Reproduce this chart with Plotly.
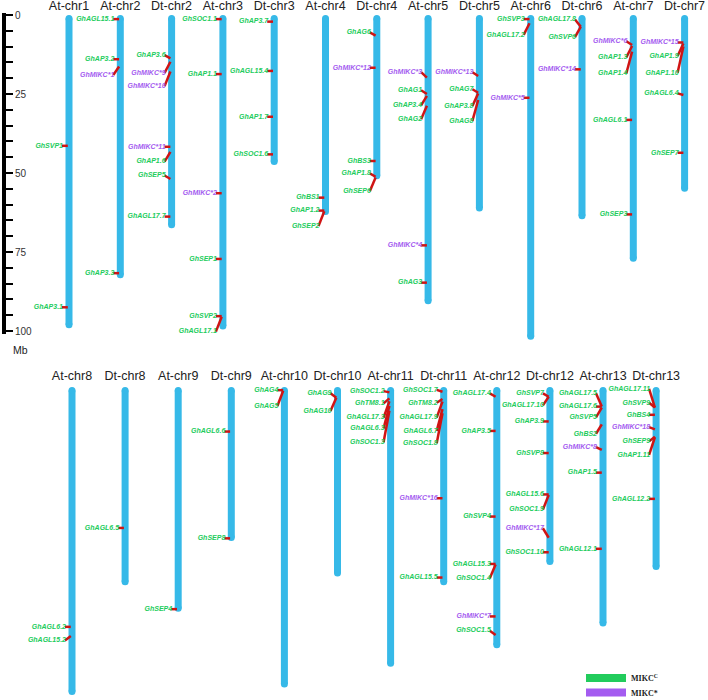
import plotly.graph_objects as go

# ---------------- data ----------------
TOP_CHROMS = ["At-chr1", "At-chr2", "Dt-chr2", "At-chr3", "Dt-chr3", "At-chr4", "Dt-chr4",
              "At-chr5", "Dt-chr5", "At-chr6", "Dt-chr6", "At-chr7", "Dt-chr7"]
TOP_LENGTHS = [99.1, 83.3, 67.5, 99.5, 47.5, 63.3, 52.0, 91.5, 62.2, 102.8, 64.6, 78.1, 55.9]

BOTTOM_CHROMS = ["At-chr8", "Dt-chr8", "At-chr9", "Dt-chr9", "At-chr10", "Dt-chr10",
                 "At-chr11", "Dt-chr11", "At-chr12", "Dt-chr12", "At-chr13", "Dt-chr13"]
BOTTOM_LENGTHS = [97.5, 62.7, 71.1, 48.7, 95.1, 60.0, 88.5, 62.7, 82.7, 56.3, 75.8, 57.9]

SCALE_TICKS = [0, 25, 50, 75, 100]

GENE_CHROM = [
    "At-chr1", "At-chr1",
    "At-chr2", "At-chr2", "At-chr2", "At-chr2",
    "Dt-chr2", "Dt-chr2", "Dt-chr2", "Dt-chr2", "Dt-chr2", "Dt-chr2", "Dt-chr2",
    "At-chr3", "At-chr3", "At-chr3", "At-chr3", "At-chr3", "At-chr3",
    "Dt-chr3", "Dt-chr3", "Dt-chr3", "Dt-chr3",
    "At-chr4", "At-chr4", "At-chr4",
    "Dt-chr4", "Dt-chr4", "Dt-chr4", "Dt-chr4", "Dt-chr4",
    "At-chr5", "At-chr5", "At-chr5", "At-chr5", "At-chr5", "At-chr5",
    "Dt-chr5", "Dt-chr5", "Dt-chr5", "Dt-chr5",
    "At-chr6", "At-chr6", "At-chr6",
    "Dt-chr6", "Dt-chr6", "Dt-chr6",
    "At-chr7", "At-chr7", "At-chr7", "At-chr7", "At-chr7",
    "Dt-chr7", "Dt-chr7", "Dt-chr7", "Dt-chr7", "Dt-chr7",
    "At-chr8", "At-chr8",
    "Dt-chr8",
    "At-chr9",
    "Dt-chr9", "Dt-chr9",
    "At-chr10", "At-chr10",
    "Dt-chr10", "Dt-chr10",
    "At-chr11", "At-chr11", "At-chr11", "At-chr11", "At-chr11",
    "Dt-chr11", "Dt-chr11", "Dt-chr11", "Dt-chr11", "Dt-chr11", "Dt-chr11", "Dt-chr11",
    "At-chr12", "At-chr12", "At-chr12", "At-chr12", "At-chr12", "At-chr12", "At-chr12",
    "Dt-chr12", "Dt-chr12", "Dt-chr12", "Dt-chr12", "Dt-chr12", "Dt-chr12", "Dt-chr12", "Dt-chr12",
    "At-chr13", "At-chr13", "At-chr13", "At-chr13", "At-chr13", "At-chr13", "At-chr13",
    "Dt-chr13", "Dt-chr13", "Dt-chr13", "Dt-chr13", "Dt-chr13", "Dt-chr13", "Dt-chr13",
]
GENE_NAME = [
    "GhSVP1", "GhAP3.1",
    "GhAGL15.1", "GhAP3.2", "GhMIKC*1", "GhAP3.3",
    "GhAP3.6", "GhMIKC*9", "GhMIKC*10", "GhMIKC*11", "GhAP1.6", "GhSEP5", "GhAGL17.7",
    "GhSOC1.1", "GhAP1.1", "GhMIKC*2", "GhSEP1", "GhSVP2", "GhAGL17.1",
    "GhAP3.7", "GhAGL15.4", "GhAP1.7", "GhSOC1.6",
    "GhBS1", "GhAP1.2", "GhSEP2",
    "GhAG6", "GhMIKC*12", "GhBS3", "GhAP1.8", "GhSEP6",
    "GhMIKC*3", "GhAG1", "GhAP3.4", "GhAG2", "GhMIKC*4", "GhAG3",
    "GhMIKC*13", "GhAG7", "GhAP3.8", "GhAG8",
    "GhSVP3", "GhAGL17.2", "GhMIKC*5",
    "GhAGL17.8", "GhSVP6", "GhMIKC*14",
    "GhMIKC*6", "GhAP1.3", "GhAP1.4", "GhAGL6.1", "GhSEP3",
    "GhMIKC*15", "GhAP1.9", "GhAP1.10", "GhAGL6.4", "GhSEP7",
    "GhAGL6.2", "GhAGL15.2",
    "GhAGL6.5",
    "GhSEP4",
    "GhAGL6.6", "GhSEP8",
    "GhAG4", "GhAG5",
    "GhAG9", "GhAG10",
    "GhSOC1.2", "GhTM8.1", "GhAGL17.3", "GhAGL6.3", "GhSOC1.3",
    "GhSOC1.7", "GhTM8.2", "GhAGL17.9", "GhAGL6.7", "GhSOC1.8", "GhMIKC*16", "GhAGL15.5",
    "GhAGL17.4", "GhAP3.5", "GhSVP4", "GhAGL15.3", "GhSOC1.4", "GhMIKC*7", "GhSOC1.5",
    "GhSVP7", "GhAGL17.10", "GhAP3.9", "GhSVP8", "GhAGL15.6", "GhSOC1.9", "GhMIKC*17", "GhSOC1.10",
    "GhAGL17.5", "GhAGL17.6", "GhSVP5", "GhBS2", "GhMIKC*8", "GhAP1.5", "GhAGL12.1",
    "GhAGL17.11", "GhSVP9", "GhBS4", "GhMIKC*18", "GhSEP9", "GhAP1.11", "GhAGL12.2",
]
# physical position on the chromosome (Mb)
GENE_POS = [
    41.4, 92.5,
    1.3, 14.0, 16.3, 81.7,
    13.7, 14.8, 17.9, 41.7, 43.3, 51.9, 63.8,
    1.3, 18.7, 56.4, 77.2, 95.3, 95.5,
    2.1, 17.7, 32.2, 44.1,
    57.8, 61.9, 62.1,
    6.5, 16.7, 46.2, 51.2, 51.4,
    19.8, 25.0, 25.6, 28.7, 72.9, 84.7,
    19.3, 24.6, 24.8, 26.9,
    1.3, 2.6, 26.2,
    3.7, 3.7, 17.2,
    9.5, 9.8, 11.6, 33.2, 63.1,
    8.7, 9.0, 10.0, 25.3, 43.6,
    75.9, 78.8,
    44.6,
    70.3,
    14.1, 47.9,
    1.0, 1.2,
    3.4, 3.4,
    1.7, 3.6, 4.5, 6.0, 7.5,
    1.5, 3.8, 4.6, 7.0, 8.3, 35.2, 60.3,
    3.1, 13.9, 41.0, 56.0, 56.2, 72.6, 78.5,
    3.1, 3.1, 10.9, 20.9, 34.0, 34.2, 47.7, 52.3,
    6.2, 6.2, 6.5, 11.8, 19.9, 27.1, 51.2,
    6.5, 6.5, 8.8, 13.4, 15.7, 15.9, 35.4,
]
# where the label sits (Mb scale)
GENE_LABEL_Y = [
    41.4, 92.5,
    1.3, 14.0, 19.0, 81.7,
    12.7, 18.3, 22.5, 41.7, 46.4, 50.8, 63.8,
    1.3, 18.7, 56.4, 77.2, 95.3, 100.2,
    2.1, 17.7, 32.2, 44.1,
    57.8, 61.9, 66.8,
    5.5, 16.7, 46.2, 50.1, 55.8,
    18.1, 23.8, 28.6, 33.0, 72.9, 84.7,
    18.1, 23.5, 28.8, 33.5,
    1.3, 6.3, 26.2,
    1.4, 7.0, 17.2,
    8.3, 13.4, 18.5, 33.2, 63.1,
    8.7, 13.0, 18.3, 24.8, 43.6,
    75.9, 80.2,
    44.6,
    70.3,
    14.1, 47.9,
    1.0, 6.0,
    2.0, 7.6,
    1.3, 5.2, 9.7, 13.1, 17.5,
    0.9, 5.0, 9.7, 13.9, 17.8, 35.2, 60.3,
    2.0, 13.9, 41.0, 56.0, 60.5, 72.6, 77.1,
    2.0, 5.8, 10.9, 20.9, 34.0, 38.8, 44.7, 52.3,
    2.0, 6.2, 9.6, 14.8, 19.0, 27.1, 51.2,
    0.6, 5.0, 8.8, 12.7, 17.2, 21.5, 35.4,
]

# ---------------- style / layout constants ----------------
W, H = 708, 700
PX_PER_MB = 3.16
BAR_W = 7
BLUE = "#36b9e8"
RED = "#d01414"
GREEN = "#22cc5c"
PURPLE = "#a45cf0"
INK = "#222222"

PANELS = {
    "top": dict(chroms=TOP_CHROMS, lengths=TOP_LENGTHS, first=69.0, pitch=51.3,
                zero_px=15.0, px_top=0.0, px_bot=350.0, xa="x", ya="y", name_dy=8.0),
    "bot": dict(chroms=BOTTOM_CHROMS, lengths=BOTTOM_LENGTHS, first=72.0, pitch=53.1,
                zero_px=387.0, px_top=355.0, px_bot=700.0, xa="x2", ya="y2", name_dy=10.0),
}

fig = go.Figure()

label_font = dict(family="Arial, Liberation Sans", size=7, weight="bold", style="italic")
cap = (BAR_W / 2.0) / PX_PER_MB  # rounded-end inset in Mb

for key, P in PANELS.items():
    chroms, lengths = P["chroms"], P["lengths"]
    px = 1.0 / P["pitch"]
    # chromosome bodies (line) with round end caps (markers)
    bx, by = [], []
    for i, L in enumerate(lengths):
        bx += [i, i, None]
        by += [cap, L - cap, None]
    fig.add_trace(go.Scatter(x=bx, y=by, mode="lines+markers", line=dict(color=BLUE, width=BAR_W),
                             marker=dict(color=BLUE, size=BAR_W, line=dict(width=0)),
                             xaxis=P["xa"], yaxis=P["ya"], showlegend=False, hoverinfo="skip"))
    fig.add_trace(go.Scatter(x=list(range(len(chroms))), y=[-P["name_dy"] / PX_PER_MB] * len(chroms),
                             mode="text", text=chroms, textposition="middle center",
                             textfont=dict(family="Arial, Liberation Sans", size=12.5, color=INK),
                             xaxis=P["xa"], yaxis=P["ya"], showlegend=False, hoverinfo="skip",
                             cliponaxis=False))
    cx, cy = [], []
    txt = {"C": ([], [], []), "*": ([], [], [])}
    for ch, nm, pos, ly in zip(GENE_CHROM, GENE_NAME, GENE_POS, GENE_LABEL_Y):
        if ch not in chroms:
            continue
        i = chroms.index(ch)
        cx += [i - 1.2 * px, i - 7.0 * px, None]
        cy += [pos, ly, None]
        k = "*" if "*" in nm else "C"
        txt[k][0].append(i - 6.0 * px)
        txt[k][1].append(ly)
        txt[k][2].append(nm)
    fig.add_trace(go.Scatter(x=cx, y=cy, mode="lines", line=dict(color=RED, width=2.5),
                             xaxis=P["xa"], yaxis=P["ya"], showlegend=False, hoverinfo="skip"))
    for k, col in (("C", GREEN), ("*", PURPLE)):
        xs, ys, ts = txt[k]
        fig.add_trace(go.Scatter(x=xs, y=ys, text=ts, mode="text", textposition="middle left",
                                 textfont=dict(color=col, **label_font),
                                 xaxis=P["xa"], yaxis=P["ya"], showlegend=False,
                                 hoverinfo="skip", cliponaxis=False))

fig.add_trace(go.Scatter(x=[None], y=[None], mode="lines", xaxis="x", yaxis="y3", showlegend=False,
                         hoverinfo="skip"))

fig.add_trace(go.Scatter(x=[None], y=[None], mode="lines", line=dict(color=GREEN, width=8),
                         name="MIKC<sup>C</sup>", xaxis="x2", yaxis="y2", legend="legend"))
fig.add_trace(go.Scatter(x=[None], y=[None], mode="lines", line=dict(color=PURPLE, width=8),
                         name="MIKC*", xaxis="x2", yaxis="y2", legend="legend2"))


def xrange(P):
    return [-P["first"] / P["pitch"], (W - P["first"]) / P["pitch"]]


def yrange(P):
    return [(P["px_bot"] - P["zero_px"]) / PX_PER_MB, (P["px_top"] - P["zero_px"]) / PX_PER_MB]


def ydomain(P):
    return [1 - P["px_bot"] / H, 1 - P["px_top"] / H]


T, B = PANELS["top"], PANELS["bot"]
hidden = dict(visible=False, showgrid=False, zeroline=False, fixedrange=True)

scale_top_px, scale_bot_px = 13.0, 334.0

legend_common = dict(xanchor="left", yanchor="middle", bgcolor="rgba(0,0,0,0)",
                     itemwidth=40, borderwidth=0,
                     font=dict(family="Liberation Serif, Times New Roman", size=8, color=INK,
                               weight="bold"))

fig.update_layout(
    width=W, height=H,
    margin=dict(l=0, r=0, t=0, b=0, autoexpand=False),
    paper_bgcolor="white", plot_bgcolor="rgba(0,0,0,0)",
    xaxis=dict(domain=[0, 1], range=xrange(T), anchor="y", **hidden),
    yaxis=dict(domain=ydomain(T), range=yrange(T), anchor="x", **hidden),
    xaxis2=dict(domain=[0, 1], range=xrange(B), anchor="y2", **hidden),
    yaxis2=dict(domain=ydomain(B), range=yrange(B), anchor="x2", **hidden),
    yaxis3=dict(
        domain=[1 - scale_bot_px / H, 1 - scale_top_px / H],
        range=[(scale_bot_px - T["zero_px"]) / PX_PER_MB, (scale_top_px - T["zero_px"]) / PX_PER_MB],
        anchor="free", position=4.0 / W, side="right",
        showline=True, linewidth=4, linecolor="black",
        ticks="outside", ticklen=7, tickwidth=2, tickcolor="black",
        tickvals=SCALE_TICKS, ticktext=[str(v) for v in SCALE_TICKS],
        minor=dict(dtick=5, tick0=0, ticks="outside", ticklen=7, tickwidth=2, tickcolor="black"),
        tickfont=dict(family="Arial, Liberation Sans", size=10, color="#333333"),
        showgrid=False, zeroline=False, fixedrange=True,
    ),
    showlegend=True,
    legend=dict(x=581 / W, y=1 - 678 / H, **legend_common),
    legend2=dict(x=581 / W, y=1 - 692.5 / H, **legend_common),
    annotations=[dict(text="Mb", x=11 / W, y=1 - 350 / H, xref="paper", yref="paper",
                      showarrow=False, font=dict(family="Arial, Liberation Sans", size=10.5, color=INK))],
)

fig.write_html(
    "out.html",
    config={"displayModeBar": False},
    post_script=("document.documentElement.style.margin='0';"
                 "document.body.style.margin='0';document.body.style.padding='0';"
                 "document.body.style.overflow='hidden';"),
)
